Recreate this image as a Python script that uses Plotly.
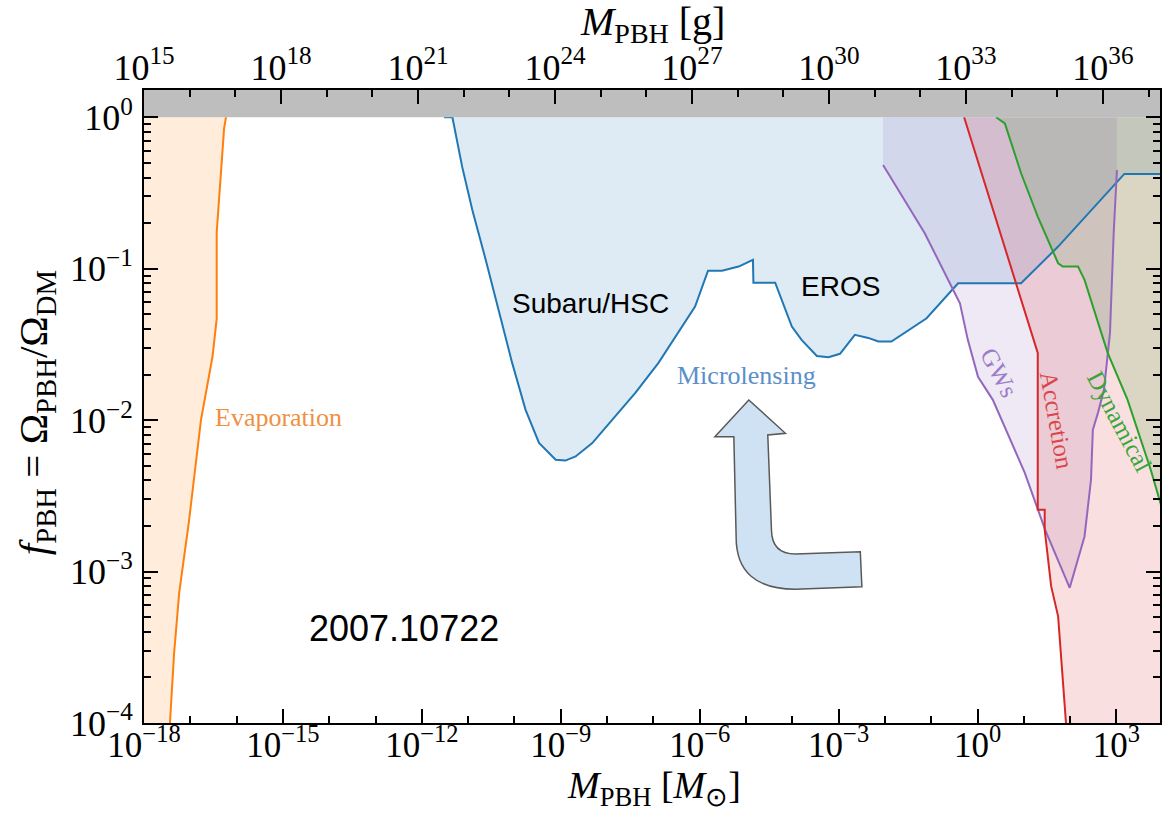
import plotly.graph_objects as go

# ---------------- data (log10 values) ----------------
# Evaporation bound
EVAP_LOGM = [-16.23, -16.27, -16.43, -16.43, -16.52, -16.77, -17.03, -17.24, -17.35, -17.44]
EVAP_LOGF = [0.0, -0.074, -0.76, -1.33, -1.58, -2.0, -2.67, -3.14, -3.54, -4.0]

# Microlensing (Subaru/HSC, EROS, ...)
ML_LOGM = [-11.52, -11.34, -11.13, -10.91, -10.62, -10.33, -10.05, -9.76, -9.47, -9.11,
           -8.90, -8.68, -8.32, -7.89, -7.39, -6.89, -6.46, -6.10, -5.82, -5.52,
           -5.16, -4.85, -4.84, -4.37, -4.01, -3.80, -3.47, -3.22, -2.97, -2.65,
           -2.36, -2.14, -1.86, -1.10, -0.42, 0.94, 1.74, 3.17, 4.0]
ML_LOGF = [0.0, 0.0, -0.326, -0.612, -0.942, -1.292, -1.622, -1.932, -2.150, -2.262,
           -2.267, -2.240, -2.152, -1.998, -1.820, -1.622, -1.424, -1.250, -1.013, -1.013,
           -0.986, -0.942, -1.092, -1.092, -1.382, -1.470, -1.576, -1.584, -1.562, -1.437,
           -1.457, -1.481, -1.481, -1.327, -1.096, -1.096, -0.854, -0.374, -0.374]

# Gravitational waves
GW_LOGM = [-2.04, -1.14, -0.49, -0.38, -0.21, 0.01, 0.33, 1.02, 1.46, 1.99,
           2.31, 2.45, 2.49, 2.60, 2.73, 2.86, 2.94, 3.01]
GW_LOGF = [-0.315, -0.766, -1.162, -1.228, -1.470, -1.714, -1.866, -2.348, -2.724, -3.107,
           -2.768, -2.394, -2.064, -1.952, -1.800, -1.424, -0.764, -0.348]

# Accretion
ACC_LOGM = [-0.29, 1.30, 1.30, 1.45, 1.45, 1.59, 1.74, 1.91]
ACC_LOGF = [0.0, -1.556, -2.592, -2.592, -2.724, -3.098, -3.296, -4.0]

# Dynamical
DYN_LOGM = [0.40, 0.59, 0.94, 1.30, 1.74, 1.84, 2.17, 2.31, 2.81, 3.24, 3.74, 4.0]
DYN_LOGF = [0.0, -0.040, -0.370, -0.656, -0.964, -0.986, -0.986, -1.074, -1.556, -1.866, -2.328, -2.6]

# axes
X_TICK_EXP = [-18, -15, -12, -9, -6, -3, 0, 3]
X2_TICK_EXP = [15, 18, 21, 24, 27, 30, 33, 36]
Y_TICK_EXP = [-4, -3, -2, -1, 0]

X_RANGE = [-18, 3.94]
X2_RANGE = [15, 37.25]
Y_RANGE = [-4, 0.18]

# ---------------- geometry ----------------
W, H = 1162, 814
L, T, B, R = 144, 90, 91, 0
PW = W - L - R
PH = H - T - B


def px(x):
    return (x - L) / PW


def py(y):
    return (H - B - y) / PH


def p10(vals):
    return [10.0 ** v for v in vals]


BLUE, ORANGE, GREEN, RED, PURPLE = "#1f77b4", "#ff7f0e", "#2ca02c", "#d62728", "#9467bd"


def rgba(hexc, a):
    h = hexc.lstrip("#")
    r, g, b = int(h[0:2], 16), int(h[2:4], 16), int(h[4:6], 16)
    return f"rgba({r},{g},{b},{a})"


fig = go.Figure()

# gray band above f = 1 (on the gram axis)
fig.add_trace(go.Scatter(x=p10([14, 38, 38, 14]), y=p10([0, 0, 0.3, 0.3]), xaxis="x2", yaxis="y",
                         fill="toself", fillcolor="#bebebe", line=dict(width=0),
                         mode="lines", hoverinfo="skip", showlegend=False))

# fills
fills = [
    ([-18.5] + EVAP_LOGM + [-18.5], [0.0] + EVAP_LOGF + [-4.0], ORANGE),
    (ML_LOGM + [4.0], ML_LOGF + [0.0], BLUE),
    ([GW_LOGM[0]] + GW_LOGM + [GW_LOGM[-1]], [0.0] + GW_LOGF + [0.0], PURPLE),
    (ACC_LOGM + [4.0, 4.0], ACC_LOGF + [-4.0, 0.0], RED),
    (DYN_LOGM + [4.0], DYN_LOGF + [0.0], GREEN),
]
for xs, ys, c in fills:
    fig.add_trace(go.Scatter(x=p10(xs), y=p10(ys), fill="toself", fillcolor=rgba(c, 0.15),
                             line=dict(width=0), mode="lines", hoverinfo="skip", showlegend=False))

# lines
for xs, ys, c in [(EVAP_LOGM, EVAP_LOGF, ORANGE), (ML_LOGM, ML_LOGF, BLUE), (GW_LOGM, GW_LOGF, PURPLE),
                  (ACC_LOGM, ACC_LOGF, RED), (DYN_LOGM, DYN_LOGF, GREEN)]:
    fig.add_trace(go.Scatter(x=p10(xs), y=p10(ys), mode="lines", line=dict(color=c, width=2),
                             hoverinfo="skip", showlegend=False))

SERIF = "Liberation Serif"
SANS = "Liberation Sans"
tickfont = dict(family=SERIF, size=36, color="black")
bottom_tickfont = dict(family=SERIF, size=35, color="black")


def sup(e):
    s = str(e).replace("-", "\u2212")
    return f"10<sup>{s}</sup>"


fig.update_layout(
    width=W, height=H,
    margin=dict(l=L, r=R, t=T, b=B, pad=0),
    paper_bgcolor="white", plot_bgcolor="white",
    xaxis=dict(type="log", range=X_RANGE, showgrid=False, zeroline=False,
               tickmode="array", tickvals=p10(X_TICK_EXP), ticktext=[sup(e) for e in X_TICK_EXP],
               ticks="inside", ticklen=14, tickwidth=2, tickcolor="black", ticklabelstandoff=-10,
               minor=dict(tickmode="array", tickvals=p10(list(range(-18, 5))), ticks="inside",
                          ticklen=7, tickwidth=2, tickcolor="black", showgrid=False),
               showline=True, linecolor="black", linewidth=2, tickfont=bottom_tickfont),
    xaxis2=dict(type="log", range=X2_RANGE, overlaying="x", side="top", anchor="y",
                showgrid=False, zeroline=False,
                tickmode="array", tickvals=p10(X2_TICK_EXP), ticktext=[sup(e) for e in X2_TICK_EXP],
                ticks="inside", ticklen=14, tickwidth=2, tickcolor="black", ticklabelstandoff=-6,
                minor=dict(tickmode="array", tickvals=p10(list(range(15, 38))), ticks="inside",
                           ticklen=7, tickwidth=2, tickcolor="black", showgrid=False),
                showline=True, linecolor="black", linewidth=2, tickfont=tickfont),
    yaxis=dict(type="log", range=Y_RANGE, showgrid=False, zeroline=False,
               tickmode="array", tickvals=p10(Y_TICK_EXP), ticktext=[sup(e) for e in Y_TICK_EXP],
               ticks="inside", ticklen=14, tickwidth=2, tickcolor="black", ticklabelstandoff=2,
               minor=dict(tickmode="array",
                          tickvals=[m * 10.0 ** k for k in range(-4, 0) for m in range(2, 10)],
                          ticks="inside", ticklen=7, tickwidth=2, tickcolor="black", showgrid=False),
               showline=True, linecolor="black", linewidth=2, mirror="ticks", tickfont=tickfont),
)

ann = []


def add_text(text, x, y, size, color="black", family=SERIF, angle=0, xanchor="center"):
    ann.append(dict(text=text, x=px(x), y=py(y), xref="paper", yref="paper", showarrow=False,
                    font=dict(family=family, size=size, color=color), textangle=angle,
                    xanchor=xanchor, yanchor="middle"))


# axis titles
add_text("<i>M</i><sub>PBH</sub> [g]", 653, 24, 40)
add_text("<i>M</i><sub>PBH</sub> [<i>M</i><sub>\u2299</sub>]", 655, 788, 38)
add_text("<i>f</i><sub>PBH</sub> = \u03a9<sub>PBH</sub>/\u03a9<sub>DM</sub>", 36, 413, 41, angle=-90)

# region labels
add_text("Evaporation", 213, 418, 26, color="#f0903f", xanchor="left")
add_text("Subaru/HSC", 591, 303, 28, family=SANS)
add_text("EROS", 842, 286, 28, family=SANS)
add_text("Microlensing", 748, 375, 26, color="#5b8fc9")
add_text("GWs", 1001, 372, 25, color="#9b7cc8", angle=62)
add_text("Accretion", 1059, 420, 25, color="#d9474a", angle=80)
add_text("Dynamical", 1121, 422, 25, color="#3aa63a", angle=62)
add_text("2007.10722", 405, 628, 36, family=SANS)

fig.update_layout(annotations=ann)

# decorative bent arrow (pixel outline converted to paper coords)
ARROW = [("M", 750, 400), ("L", 786.7, 433.3), ("L", 769, 435), ("L", 772.7, 530),
         ("Q", 773, 554, 796.7, 554), ("L", 861.7, 551.7), ("L", 863.3, 586.7),
         ("L", 796.7, 589.3), ("Q", 737, 589, 737.3, 536.7), ("L", 735, 436.7),
         ("L", 716, 436.7)]
parts = []
for seg in ARROW:
    cmd, coords = seg[0], seg[1:]
    pts = " ".join(f"{px(coords[i]):.5f},{py(coords[i + 1]):.5f}" for i in range(0, len(coords), 2))
    parts.append(f"{cmd} {pts}")
path = " ".join(parts) + " Z"
fig.add_shape(type="path", path=path, xref="paper", yref="paper",
              fillcolor="#cfe2f3", line=dict(color="#595959", width=1.5), layer="above")

fig.write_html("out.html", config={"displayModeBar": False},
               post_script="document.body.style.margin='0';document.body.style.overflow='hidden';")
